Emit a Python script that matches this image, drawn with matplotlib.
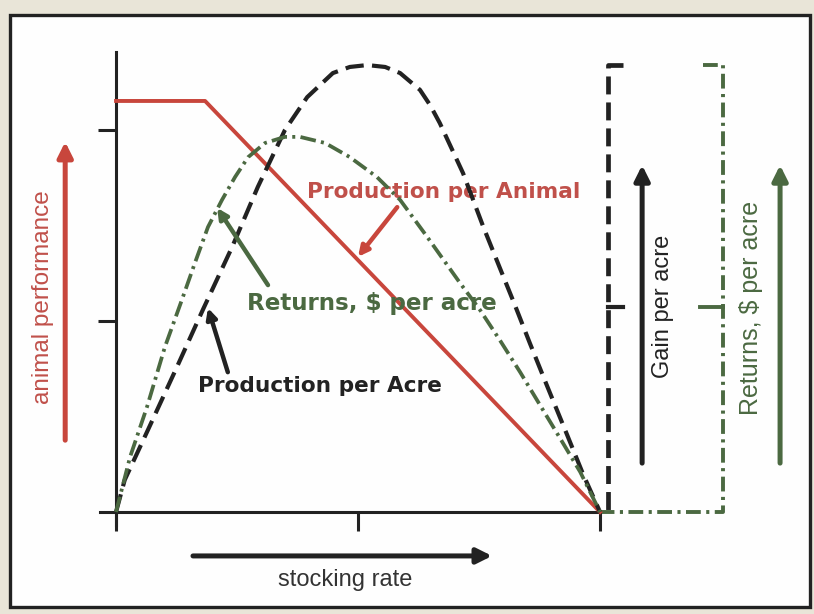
import matplotlib
matplotlib.use("Agg")
import matplotlib.pyplot as plt
from matplotlib.patches import Rectangle

plt.rcParams['font.family'] = ['Liberation Sans', 'DejaVu Sans']

# stocking rate (0 = none, 1 = max) and the three response curves
rate_acre = [0.0, 0.018, 0.066, 0.126, 0.180, 0.240, 0.293, 0.349, 0.395, 0.448, 0.483,
             0.519, 0.556, 0.587, 0.628, 0.649, 0.669, 0.717, 0.759, 0.793, 0.824,
             0.855, 0.890, 0.932, 0.965, 1.0]
prod_per_acre = [0.0, 0.084, 0.215, 0.380, 0.531, 0.694, 0.851, 1.000, 1.086, 1.149, 1.165,
                 1.170, 1.165, 1.149, 1.105, 1.065, 1.018, 0.887, 0.746, 0.639, 0.542,
                 0.442, 0.332, 0.202, 0.099, 0.0]

rate_returns = [0.0, 0.029, 0.064, 0.101, 0.136, 0.163, 0.190, 0.219, 0.246, 0.273,
                0.308, 0.349, 0.380, 0.432, 0.483, 0.539, 0.587, 0.643, 0.711, 0.752,
                0.793, 0.835, 0.876, 0.917, 0.959, 1.0]
returns_per_acre = [0.0, 0.144, 0.275, 0.432, 0.555, 0.652, 0.746, 0.817, 0.877, 0.929,
                    0.966, 0.982, 0.982, 0.966, 0.929, 0.877, 0.817, 0.720, 0.599, 0.529,
                    0.450, 0.366, 0.280, 0.194, 0.105, 0.0]

rate_animal = [0.0, 0.184, 1.0]
prod_per_animal = [1.076, 1.076, 0.0]

RED = "#c8463c"
GREEN = "#4b6941"
DARK = "#222222"

fig = plt.figure(figsize=(8.14, 6.14), dpi=100)
fig.patch.set_facecolor("#e9e5d8")

ax = fig.add_axes([0, 0, 1, 1])
ax.set_facecolor("none")
ax.set_xlim(-0.2397, 1.4421)
ax.set_ylim(-0.267, 1.3403)

# white panel with heavy frame
ax.add_patch(Rectangle((10 / 814, 1 - 607 / 614), 800 / 814, 592 / 614,
                       transform=fig.transFigure, facecolor="#fefefe",
                       edgecolor=DARK, lw=2.4, zorder=0, clip_on=False))

# axes through the origin
for s in ["top", "right"]:
    ax.spines[s].set_visible(False)
ax.spines["left"].set_position(("data", 0))
ax.spines["bottom"].set_position(("data", 0))
ax.spines["left"].set_bounds(-0.035, 1.204)
ax.spines["bottom"].set_bounds(-0.033, 1.0)
for s in ["left", "bottom"]:
    ax.spines[s].set_linewidth(2.2)
    ax.spines[s].set_color(DARK)
ax.set_xticks([0, 0.5, 1.0])
ax.set_yticks([0.5, 1.0])
ax.set_xticklabels([])
ax.set_yticklabels([])
ax.tick_params(axis="x", direction="out", length=14, width=2.2, color=DARK)
ax.tick_params(axis="y", direction="out", length=13, width=2.2, color=DARK)

# curves
ax.plot(rate_animal, prod_per_animal, color=RED, lw=2.8, zorder=3)
ax.plot(rate_acre, prod_per_acre, color=DARK, lw=3, dashes=(4.4, 2.0), zorder=4)
ax.plot(rate_returns, returns_per_acre, color=GREEN, lw=2.7,
        dashes=(4.2, 1.4, 0.8, 1.4), zorder=4)

# brackets on the right
top = max(prod_per_acre)
ax.plot([1.0475, 1.0165, 1.0165], [top, top, 0], color=DARK, lw=3.4,
        dashes=(3.8, 1.7))
ax.plot([1.0165, 1.0475], [0.537, 0.537], color=DARK, lw=3)
ax.plot([1.213, 1.254, 1.254, 1.0], [top, top, 0, 0], color=GREEN, lw=2.8,
        dashes=(3.8, 1.4, 0.8, 1.4))
ax.plot([1.206, 1.254], [0.537, 0.537], color=GREEN, lw=2.8)


def big_arrow(x0, y0, x1, y1, color):
    ax.annotate("", xy=(x1, y1), xytext=(x0, y0),
                arrowprops=dict(arrowstyle="-|>,head_length=0.9,head_width=0.45",
                                lw=3.6, color=color, shrinkA=0, shrinkB=0))


big_arrow(-0.105, 0.188, -0.105, 0.969, RED)
big_arrow(1.087, 0.128, 1.087, 0.908, DARK)
big_arrow(1.372, 0.128, 1.372, 0.908, GREEN)
big_arrow(0.159, -0.115, 0.777, -0.115, DARK)

ax.text(-0.151, 0.563, "animal performance", rotation=90, ha="center", va="center",
        fontsize=17.5, color="#c0504a")
ax.text(1.130, 0.537, "Gain per acre", rotation=90, ha="center", va="center",
        fontsize=17, color=DARK)
ax.text(1.312, 0.534, "Returns, $ per acre", rotation=90, ha="center", va="center",
        fontsize=18, color=GREEN)
ax.text(0.473, -0.178, "stocking rate", ha="center", va="center",
        fontsize=17, color="#333333")

# curve labels with pointers
bold = dict(ha="center", va="center", fontweight="bold", family="DejaVu Sans")
ax.text(0.676, 0.838, "Production per Animal", fontsize=15.6, color="#c0504a", **bold)
ax.text(0.529, 0.547, "Returns, $ per acre", fontsize=16.6, color=GREEN, **bold)
ax.text(0.421, 0.330, "Production per Acre", fontsize=15.6, color=DARK, **bold)


def pointer(x0, y0, x1, y1, color):
    ax.annotate("", xy=(x1, y1), xytext=(x0, y0),
                arrowprops=dict(arrowstyle="-|>,head_length=0.6,head_width=0.3",
                                lw=3.2, color=color, shrinkA=0, shrinkB=0), zorder=5)


pointer(0.581, 0.798, 0.500, 0.668, RED)
pointer(0.314, 0.594, 0.209, 0.796, GREEN)
pointer(0.231, 0.366, 0.190, 0.534, DARK)

fig.savefig("out.png", dpi=100)
